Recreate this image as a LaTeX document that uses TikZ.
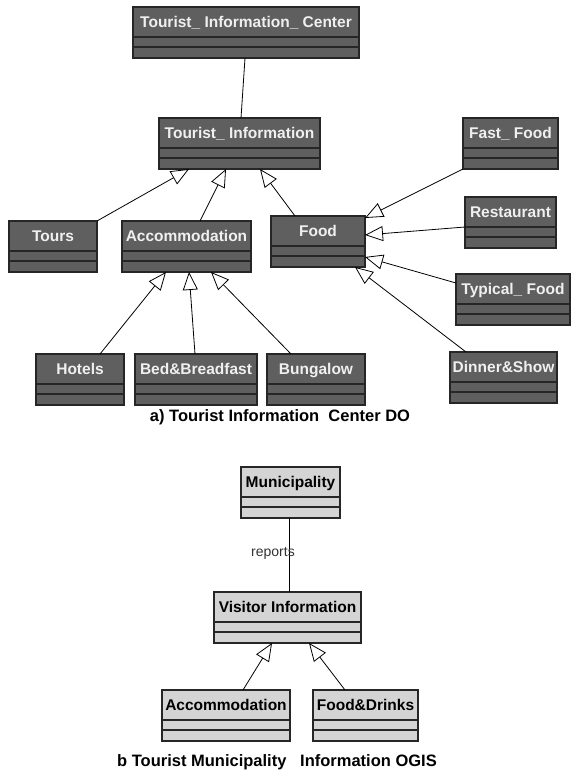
\documentclass[tikz,border=0pt]{standalone}
\usepackage{fontspec}
\setmainfont{Liberation Sans}
\usetikzlibrary{arrows.meta}
\definecolor{boxdark}{HTML}{5F5F5F}
\definecolor{boxlight}{HTML}{D4D4D4}
\tikzset{
  classbox/.style={draw=black!85, line width=1.1pt, anchor=north west,
    inner xsep=0pt, inner ysep=0pt, outer sep=0pt,
    text height=20.5pt, text depth=30.5pt, font=\bfseries\fontsize{15.5}{17}\selectfont,
    path picture={
      \draw[line width=1.1pt] ([yshift=-30pt]path picture bounding box.north west) -- ([yshift=-30pt]path picture bounding box.north east);
      \draw[line width=1.1pt] ([yshift=-40pt]path picture bounding box.north west) -- ([yshift=-40pt]path picture bounding box.north east);}},
  darkclass/.style={classbox, fill=boxdark, text=white!94!black},
  lightclass/.style={classbox, fill=boxlight, text=black},
  generalize/.style={-{Triangle[open, length=18pt, width=15pt]}, line width=0.8pt},
  assoc/.style={line width=0.8pt}
}
\begin{document}
\begin{tikzpicture}[x=1pt, y=-1pt]
        \useasboundingbox (0,0) rectangle (571,778);

        % a) Tourist Information Center DO
        \node[darkclass, minimum width=226pt] (center) at (133,7) {Tourist\_ Information\_ Center};
        \node[darkclass, minimum width=161pt] (info) at (159,118) {Tourist\_ Information};
        \node[darkclass, minimum width=95pt] (fastfood) at (463,118) {Fast\_ Food};
        \node[darkclass, minimum width=91pt] (restaurant) at (465,197) {Restaurant};
        \node[darkclass, minimum width=88pt] (tours) at (9,221) {Tours};
        \node[darkclass, minimum width=129pt] (accom) at (122,221) {Accommodation};
        \node[darkclass, minimum width=94pt] (food) at (271,216) {Food};
        \node[darkclass, minimum width=114pt] (typical) at (456,274) {Typical\_ Food};
        \node[darkclass, minimum width=88pt] (hotels) at (36,354) {Hotels};
        \node[darkclass, minimum width=122pt] (bedbreak) at (135,354) {Bed\&Breadfast};
        \node[darkclass, minimum width=98pt] (bungalow) at (267,354) {Bungalow};
        \node[darkclass, minimum width=107pt] (dinner) at (450,352) {Dinner\&Show};

        \draw[assoc] ([xshift=112pt]center.south west) -- ([xshift=82pt]info.north west);
        \draw[generalize] (tours.north east) -- ([xshift=30pt]info.south west);
        \draw[generalize] ([xshift=78pt]accom.north west) -- ([xshift=67pt]info.south west);
        \draw[generalize] ([xshift=24pt]food.north west) -- ([xshift=101pt]info.south west);
        \draw[generalize] (fastfood.south west) -- ([yshift=-2pt]food.north east);
        \draw[generalize] ([yshift=-30pt]restaurant.north west) -- ([yshift=-19pt]food.north east);
        \draw[generalize] ([yshift=-9pt]typical.north west) -- ([yshift=-41pt]food.north east);
        \draw[generalize] ([xshift=16pt]dinner.north west) -- ([xshift=-10pt]food.south east);
        \draw[generalize] ([xshift=64pt]hotels.north west) -- ([xshift=44pt]accom.south west);
        \draw[generalize] ([xshift=60pt]bedbreak.north west) -- ([xshift=67pt]accom.south west);
        \draw[generalize] ([xshift=24pt]bungalow.north west) -- ([xshift=89pt]accom.south west);

        \node[font=\bfseries\fontsize{16.5}{18}\selectfont] (captiona) at (280,417) {a) Tourist Information\ \ Center DO};

        % b Tourist Municipality Information OGIS
        \node[lightclass, minimum width=99pt] (municipality) at (241,467) {Municipality};
        \node[lightclass, minimum width=147pt] (visitor) at (214,592) {Visitor Information};
        \node[lightclass, minimum width=128pt] (accomb) at (162,690) {Accommodation};
        \node[lightclass, minimum width=105pt] (fooddrinks) at (313,690) {Food\&Drinks};

        \draw[assoc] ([xshift=48pt]municipality.south west) -- node[pos=0.48, xshift=-16pt, font=\fontsize{14}{16}\selectfont, text=black!80] (reports) {reports} ([xshift=75pt]visitor.north west);
        \draw[generalize] ([xshift=81pt]accomb.north west) -- ([xshift=58pt]visitor.south west);
        \draw[generalize] ([xshift=32pt]fooddrinks.north west) -- ([xshift=95pt]visitor.south west);

        \node[font=\bfseries\fontsize{16.5}{18}\selectfont] (captionb) at (277,762) {b Tourist Municipality\ \ \ Information OGIS};
\end{tikzpicture}
\end{document}
